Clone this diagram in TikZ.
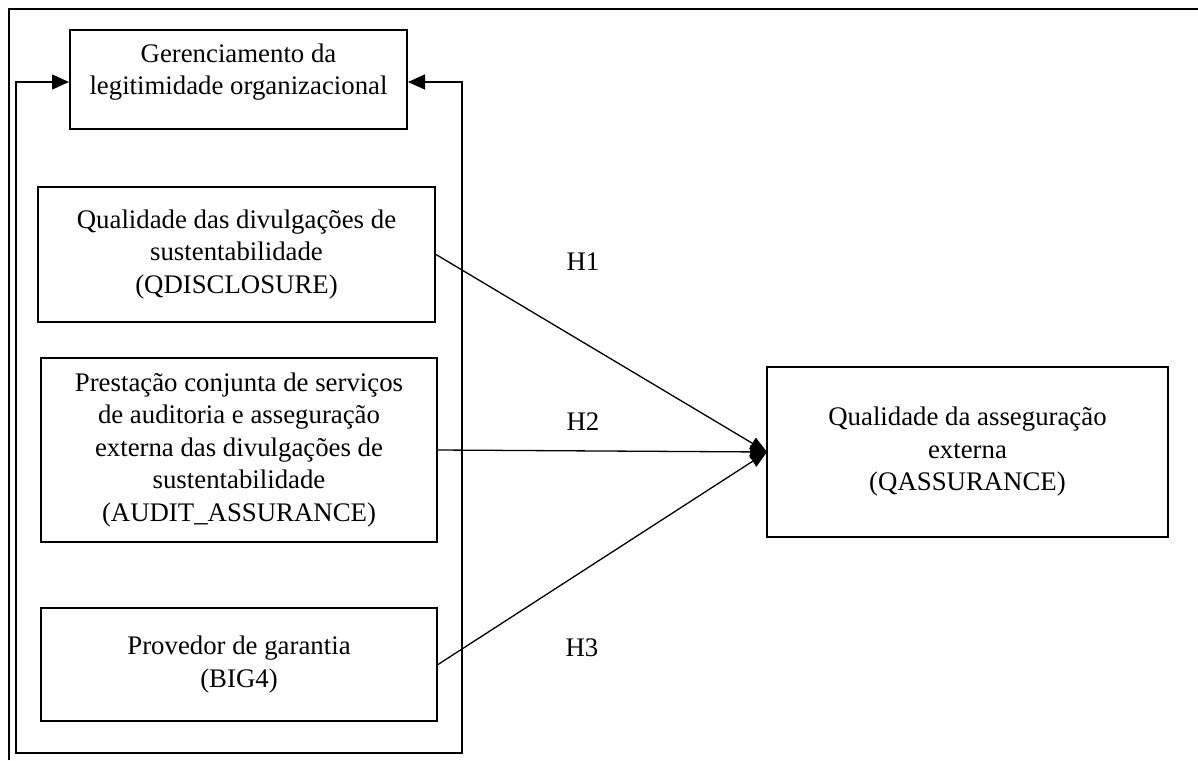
\documentclass[tikz,border=0pt]{standalone}
\usepackage{fontspec}
\setmainfont{Liberation Serif}
\usetikzlibrary{arrows.meta}
\begin{document}
\begin{tikzpicture}[x=1pt,y=-1pt,
  every node/.style={font=\fontsize{26.8}{32.5}\selectfont, align=center, inner sep=0pt},
  varbox/.style={draw, line width=2pt, rectangle},
  link/.style={line width=1.3pt, -{Triangle[length=17pt,width=13pt]}},
  loopline/.style={line width=1.3pt},
  hyp/.style={}]
\useasboundingbox (0,0) rectangle (1198,760);
\fill[white] (0,0) rectangle (1198,760);

% outer frame (open to the right and bottom)
\draw[line width=1.5pt] (9,760) -- (9,9) -- (1198,9);

% boxes
\node[varbox, minimum width=337pt, minimum height=99pt] (legit) at (238.5,79.5) {};
\node at (238.5,72) {Gerenciamento da\\legitimidade organizacional};

\node[varbox, minimum width=397pt, minimum height=135pt] (qdisc) at (236.5,254.5)
  {Qualidade das divulgações de\\sustentabilidade\\(QDISCLOSURE)};
\node[varbox, minimum width=396pt, minimum height=184pt] (audit) at (239,450)
  {Prestação conjunta de serviços\\de auditoria e asseguração\\externa das divulgações de\\sustentabilidade\\(AUDIT\_ASSURANCE)};
\node[varbox, minimum width=396pt, minimum height=113pt] (big) at (239,664.5)
  {Provedor de garantia\\(BIG4)};
\node[varbox, minimum width=401pt, minimum height=170pt] (qass) at (967.5,452)
  {Qualidade da asseguração\\externa\\(QASSURANCE)};

% feedback loop around the explanatory variables
\coordinate (lt) at (16,82);
\coordinate (lb) at (16,753);
\coordinate (rb) at (462,753);
\coordinate (rt) at (462,82);
\draw[loopline, {Triangle[length=17pt,width=15pt]}-{Triangle[length=17pt,width=15pt]}]
  (legit.west |- lt) -- (lt) -- (lb) -- (rb) -- (rt) -- (legit.east |- rt);

% hypotheses
\coordinate (tip) at (767,452);
\draw[link] (qdisc.east) -- (tip);
\draw[link] (audit.east) -- (tip);
\draw[link] (big.east) -- (tip);

\node[hyp] (h1) at (583,262) {H1};
\node[hyp] (h2) at (583,422) {H2};
\node[hyp] (h3) at (582,648) {H3};
\end{tikzpicture}
\end{document}
